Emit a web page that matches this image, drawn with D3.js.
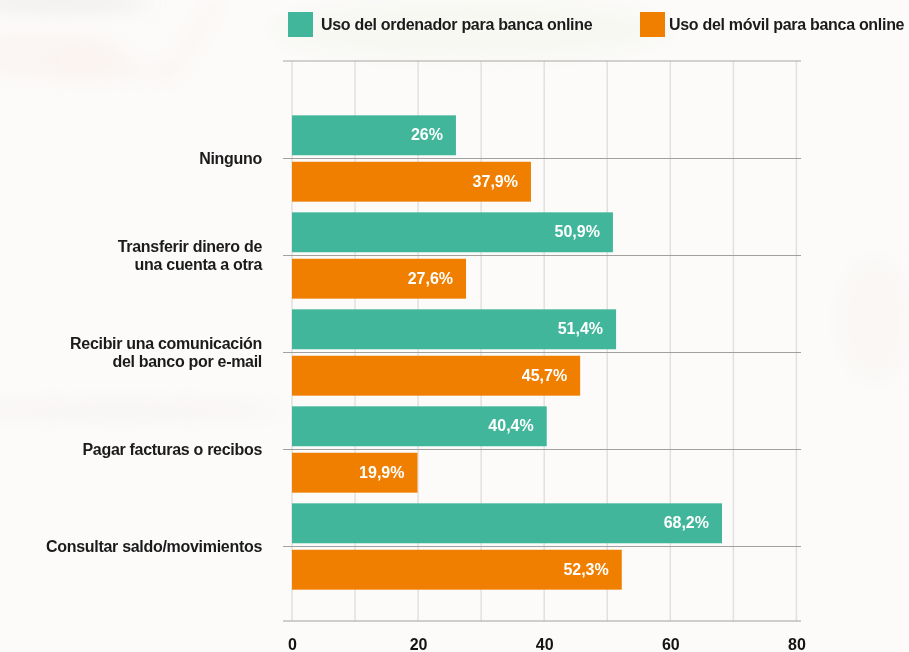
<!DOCTYPE html>
<html>
<head>
<meta charset="utf-8">
<script src="https://cdn.jsdelivr.net/npm/d3@7"></script>
<style>
  html, body { margin: 0; padding: 0; background: #fcfbfa; }
  svg { display: block; }
  text { font-family: "Liberation Sans", Arial, Helvetica, sans-serif; font-weight: bold; }
</style>
</head>
<body>
<svg id="chart" width="909" height="652"></svg>
<script>
// Banking channel usage, by task (percent of users)
const categories = [
  "Ninguno",
  "Transferir dinero de una cuenta a otra",
  "Recibir una comunicación del banco por e-mail",
  "Pagar facturas o recibos",
  "Consultar saldo/movimientos"
];
const categoryLines = [
  ["Ninguno"],
  ["Transferir dinero de", "una cuenta a otra"],
  ["Recibir una comunicación", "del banco por e-mail"],
  ["Pagar facturas o recibos"],
  ["Consultar saldo/movimientos"]
];
const seriesNames = ["Uso del ordenador para banca online", "Uso del móvil para banca online"];
const ordenador = [26, 50.9, 51.4, 40.4, 68.2];
const movil = [37.9, 27.6, 45.7, 19.9, 52.3];
const seriesValues = [ordenador, movil];
const seriesColors = ["#41b69a", "#f07f00"];
const xTicks = [0, 20, 40, 60, 80];

const svg = d3.select("#chart");

// soft backdrop wash
const defs = svg.append("defs");
defs.append("filter").attr("id", "soft").attr("x", "-50%").attr("y", "-50%").attr("width", "200%").attr("height", "200%")
  .append("feGaussianBlur").attr("stdDeviation", 10);
const bg = svg.append("g").attr("filter", "url(#soft)");
bg.append("ellipse").attr("cx", 60).attr("cy", 2).attr("rx", 90).attr("ry", 6).attr("fill", "#cfccc9").attr("opacity", 0.4);
bg.append("ellipse").attr("cx", 45).attr("cy", 55).attr("rx", 80).attr("ry", 22).attr("fill", "#f5e0d6").attr("opacity", 0.22);
bg.append("ellipse").attr("cx", 110).attr("cy", 70).attr("rx", 60).attr("ry", 12).attr("fill", "#f6e2d8").attr("opacity", 0.18);
bg.append("line").attr("x1", 218).attr("y1", 0).attr("x2", 165).attr("y2", 82)
  .attr("stroke", "#f5dccd").attr("stroke-width", 10).attr("opacity", 0.25);
bg.append("ellipse").attr("cx", 120).attr("cy", 410).attr("rx", 170).attr("ry", 8).attr("fill", "#f0e6e0").attr("opacity", 0.3);
bg.append("ellipse").attr("cx", 470).attr("cy", 30).attr("rx", 200).attr("ry", 30).attr("fill", "#f1f5e8").attr("opacity", 0.45);
bg.append("ellipse").attr("cx", 875).attr("cy", 320).attr("rx", 35).attr("ry", 60).attr("fill", "#f5f1ec").attr("opacity", 0.35);

const x = d3.scaleLinear().domain([0, 80]).range([292, 796.4]);
const y = d3.scaleBand().domain(categories).range([110, 595]).paddingInner(0.11).paddingOuter(0.055);
const ySub = d3.scaleBand().domain(d3.range(seriesNames.length)).range([0, y.bandwidth()]).paddingInner(0.14);

const frameTop = 61, frameBottom = 621, frameLeft = 283, frameRight = 801;

// vertical grid
svg.append("g").selectAll("line")
  .data(d3.range(0, 81, 10))
  .join("line")
  .attr("x1", d => x(d)).attr("x2", d => x(d))
  .attr("y1", frameTop).attr("y2", frameBottom)
  .attr("stroke", "#e3e1df").attr("stroke-width", 1.5);

// frame top line
svg.append("line").attr("x1", frameLeft).attr("x2", frameRight)
  .attr("y1", frameTop).attr("y2", frameTop)
  .attr("stroke", "#a9a7a5").attr("stroke-width", 1);

// bars
const groups = svg.append("g").selectAll("g")
  .data(categories)
  .join("g")
  .attr("transform", d => `translate(0,${y(d)})`);

groups.selectAll("rect")
  .data((d, i) => seriesValues.map((vals, s) => ({ s, v: vals[i] })))
  .join("rect")
  .attr("x", x(0))
  .attr("y", d => ySub(d.s))
  .attr("width", d => x(d.v) - x(0))
  .attr("height", ySub.bandwidth())
  .attr("fill", d => seriesColors[d.s]);

const fmt = v => (Number.isInteger(v) ? String(v) : v.toFixed(1).replace(".", ",")) + "%";

groups.selectAll("text.val")
  .data((d, i) => seriesValues.map((vals, s) => ({ s, v: vals[i] })))
  .join("text")
  .attr("class", "val")
  .attr("x", d => x(d.v) - 13)
  .attr("y", d => ySub(d.s) + ySub.bandwidth() / 2 + 5)
  .attr("text-anchor", "end")
  .attr("font-size", 16)
  .attr("fill", "#ffffff")
  .text(d => fmt(d.v));

// category center lines
svg.append("g").selectAll("line")
  .data(categories)
  .join("line")
  .attr("x1", frameLeft).attr("x2", frameRight)
  .attr("y1", d => y(d) + y.bandwidth() / 2)
  .attr("y2", d => y(d) + y.bandwidth() / 2)
  .attr("stroke", "#a3a1a0").attr("stroke-width", 1);

// category labels
const labels = svg.append("g").selectAll("text")
  .data(categories)
  .join("text")
  .attr("text-anchor", "end")
  .attr("font-size", 16)
  .attr("letter-spacing", "-0.3px")
  .attr("fill", "#1b1b1b");
labels.each(function(d, i) {
  const lines = categoryLines[i];
  const c = y(d) + y.bandwidth() / 2;
  d3.select(this).selectAll("tspan")
    .data(lines)
    .join("tspan")
    .attr("x", 262)
    .attr("y", (t, j) => c + 5.5 + (j - (lines.length - 1) / 2) * 18)
    .text(t => t);
});

// bottom axis
const xAxis = svg.append("g")
  .attr("transform", `translate(0,${frameBottom})`)
  .call(d3.axisBottom(x).tickValues(xTicks).tickSize(0).tickPadding(0));
xAxis.select(".domain").remove();
xAxis.append("line").attr("x1", frameLeft).attr("x2", frameRight)
  .attr("stroke", "#a3a1a0").attr("stroke-width", 1);
xAxis.selectAll(".tick text")
  .attr("y", 29)
  .attr("dy", 0)
  .attr("font-size", 16)
  .attr("font-family", "Liberation Sans, Arial, sans-serif")
  .attr("font-weight", "bold")
  .attr("fill", "#141414");

// legend
const legendX = [288, 640];
const legend = svg.append("g").selectAll("g")
  .data(seriesNames)
  .join("g")
  .attr("transform", (d, i) => `translate(${legendX[i]},12)`);
legend.append("rect").attr("width", 25).attr("height", 25).attr("fill", (d, i) => seriesColors[i]);
legend.append("text")
  .attr("x", (d, i) => i === 0 ? 33 : 29)
  .attr("y", 17.5)
  .attr("font-size", 16)
  .attr("letter-spacing", "-0.3px")
  .attr("fill", "#1b1b1b")
  .text(d => d);
</script>
</body>
</html>
